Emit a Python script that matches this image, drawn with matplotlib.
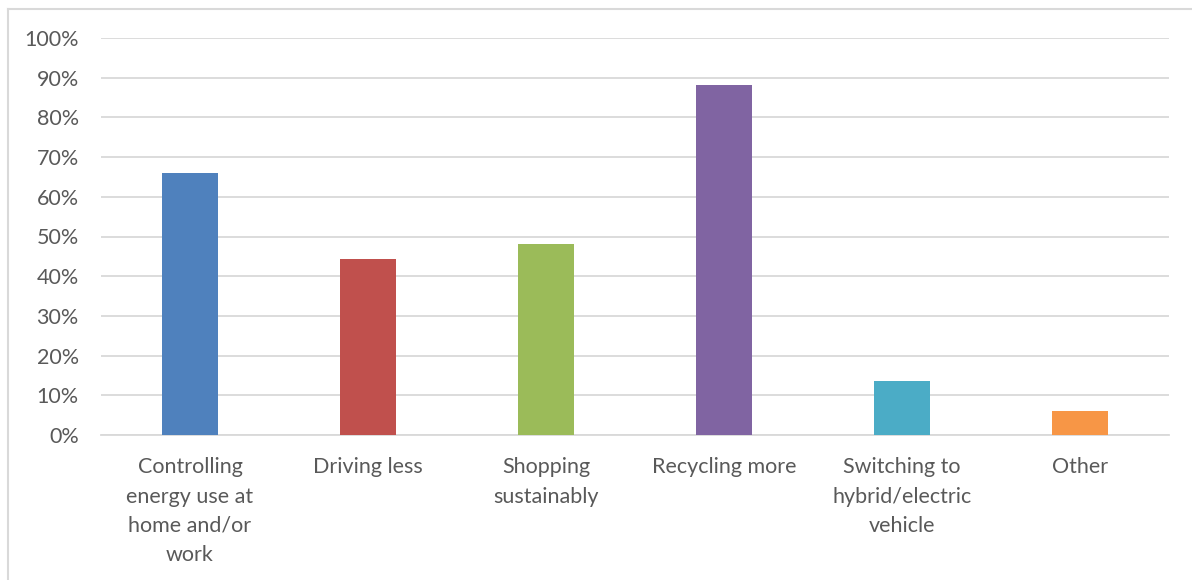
import matplotlib.pyplot as plt
from matplotlib.lines import Line2D
from matplotlib.ticker import PercentFormatter

plt.rcParams['font.family'] = ['Lato', 'DejaVu Sans']

categories = ['Controlling\nenergy use at\nhome and/or\nwork', 'Driving less',
              'Shopping\nsustainably', 'Recycling more',
              'Switching to\nhybrid/electric\nvehicle', 'Other']
values = [66.0, 44.3, 48.0, 88.2, 13.7, 6.0]
colors = ['#4F81BD', '#C0504D', '#9BBB59', '#8064A2', '#4BACC6', '#F79646']
y_ticks = list(range(0, 101, 10))

fig = plt.figure(figsize=(11.92, 5.8), dpi=100)
ax = fig.add_axes([101/1192, 1 - 435/580, 1068/1192, 397/580])

x = range(len(categories))
ax.bar(x, values, width=0.32, color=colors, zorder=3)

ax.set_xlim(-0.5, len(categories) - 0.5)
ax.set_ylim(0, 100)
ax.set_yticks(y_ticks)
ax.yaxis.set_major_formatter(PercentFormatter(decimals=0))
ax.set_xticks(list(x))
ax.set_xticklabels(categories, linespacing=1.58)
ax.grid(axis='y', color='#d9d9d9', linewidth=1.3, zorder=0)
ax.tick_params(axis='both', length=0, labelsize=15.5, colors='#595959')
ax.tick_params(axis='x', pad=16)
ax.tick_params(axis='y', pad=16)
for s in ['top', 'right', 'left']:
    ax.spines[s].set_visible(False)
ax.spines['bottom'].set_color('#d9d9d9')
ax.spines['bottom'].set_linewidth(1.3)

# chart frame (left and top edges visible)
fig.add_artist(Line2D([8/1192, 8/1192], [0, 1 - 9/580], color='#d9d9d9', lw=1.5))
fig.add_artist(Line2D([8/1192, 1], [1 - 9/580, 1 - 9/580], color='#d9d9d9', lw=1.5))

fig.savefig('out.png', dpi=100)
